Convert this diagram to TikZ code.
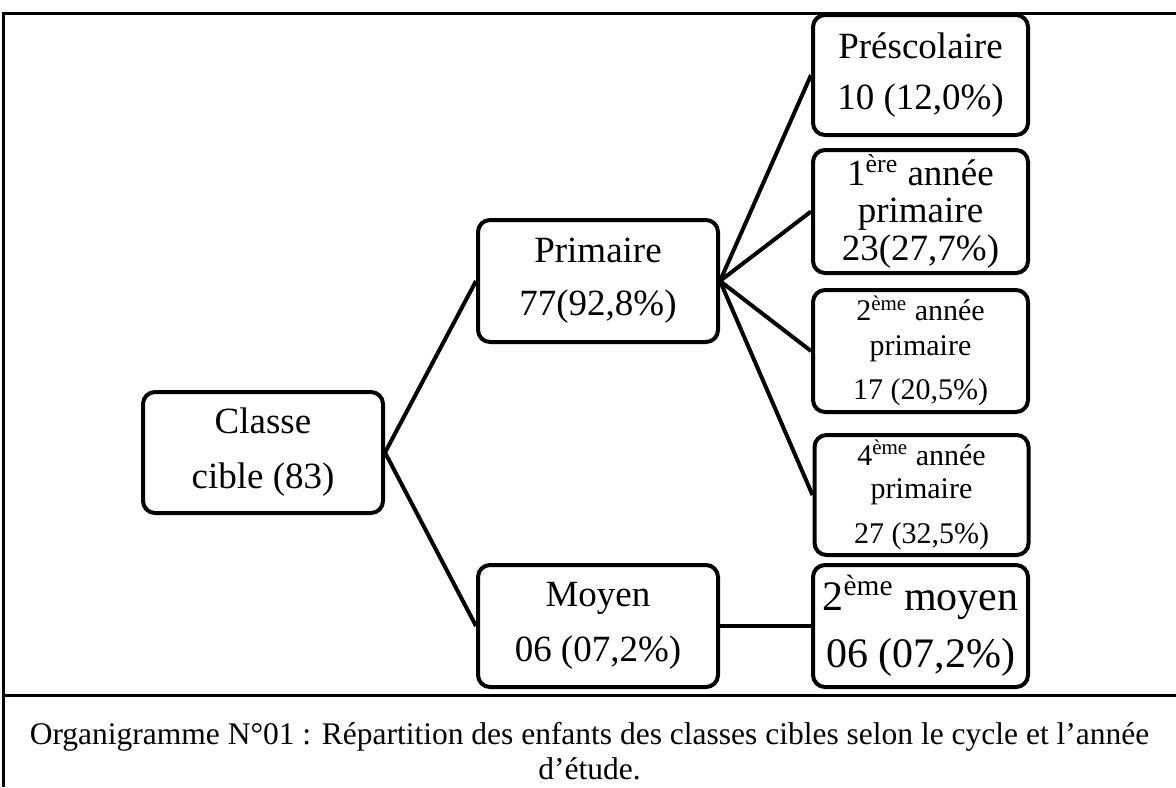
\documentclass[tikz,border=0pt]{standalone}
\usepackage{fontspec}
\setmainfont{Liberation Serif}
\begin{document}
\begin{tikzpicture}[x=0.5pt,y=-0.5pt,
  box/.style={draw=black,line width=2pt,rounded corners=6pt,inner sep=0pt,align=center,fill=white},
  link/.style={draw=black,line width=2pt},
  frame/.style={draw=black,line width=1.5pt}]
\useasboundingbox (0,0) rectangle (1176,787);
% frame
\coordinate (tl) at (3,13);
\coordinate (tr) at (1176,13);
\coordinate (bl) at (3,787);
\coordinate (sl) at (3,695);
\coordinate (sr) at (1176,695);
\draw[frame] (tr) -- (tl) -- (bl);
\draw[frame] (sl) -- (sr);
% boxes
\node[box,minimum width=120pt,minimum height=60.5pt,font=\fontsize{18.5}{27.5}\selectfont] (cls) at (263,452.5) {Classe\\cible (83)};
\node[box,minimum width=120pt,minimum height=61pt,font=\fontsize{18.5}{26.5}\selectfont] (pri) at (598,281) {Primaire\\77(92,8\%)};
\node[box,minimum width=120pt,minimum height=61pt,font=\fontsize{18.5}{27.5}\selectfont] (moy) at (598,626) {Moyen\\06 (07,2\%)};
\node[box,minimum width=107.5pt,minimum height=60pt,font=\fontsize{18.5}{25.5}\selectfont] (pre) at (920.5,75) {Préscolaire\\10 (12,0\%)};
\node[box,minimum width=107.5pt,minimum height=61.5pt,font=\fontsize{18.5}{18.75}\selectfont] (a1) at (920.5,211.5) {1\textsuperscript{ère} année\\primaire\\23(27,7\%)};
\node[box,minimum width=107.5pt,minimum height=61pt,font=\fontsize{15}{17.5}\selectfont] (a2) at (920.5,351) {2\textsuperscript{ème} année\\primaire\\[4.5pt]17 (20,5\%)};
\node[box,minimum width=107pt,minimum height=60pt,font=\fontsize{15}{16.5}\selectfont] (a4) at (921.5,495) {4\textsuperscript{ème} année\\primaire\\[6pt]27 (32,5\%)};
\node[box,minimum width=107.5pt,minimum height=61pt,font=\fontsize{21}{28.5}\selectfont] (m2) at (920.5,626) {2\textsuperscript{ème} moyen\\06 (07,2\%)};
% connectors
\draw[link] (cls.east) -- (pri.west);
\draw[link] (cls.east) -- (moy.west);
\draw[link] (pri.east) -- (pre.west);
\draw[link] (pri.east) -- (a1.west);
\draw[link] (pri.east) -- (a2.west);
\draw[link] (pri.east) -- (a4.west);
\draw[link] (moy.east) -- (m2.west);
% caption
\node[align=center,inner sep=0pt,font=\fontsize{15.75}{17.5}\selectfont] (cap) at (589.5,751) {Organigramme N°01 : Répartition des enfants des classes cibles selon le cycle et l’année\\d’étude.};
\end{tikzpicture}
\end{document}
